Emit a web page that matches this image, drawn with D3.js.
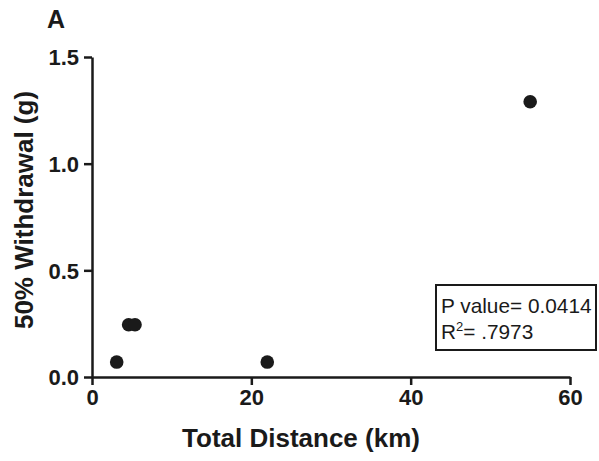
<!DOCTYPE html>
<html><head><meta charset="utf-8">
<script src="https://cdn.jsdelivr.net/npm/d3@7"></script>
<style>body{margin:0;background:#fff}text{font-family:Arial,"Liberation Sans",sans-serif;fill:#1a1a1a}</style>
</head><body>
<script>
const distanceKm = [3.1, 4.6, 5.4, 22.0, 55.0];
const withdrawalG = [0.07, 0.245, 0.245, 0.07, 1.29];
const xTicks = [0, 20, 40, 60];
const yTicks = [0.0, 0.5, 1.0, 1.5];
const panelLabel = "A";
const xTitle = "Total Distance (km)";
const yTitle = "50% Withdrawal (g)";
const statLines = ["P value= 0.0414", "R2= .7973"];

const W = 599, H = 461;
const svg = d3.select("body").append("svg").attr("width", W).attr("height", H);
const x = d3.scaleLinear().domain([0, 60]).range([92, 570]);
const y = d3.scaleLinear().domain([0, 1.5]).range([377, 57]);
const col = "#1a1a1a";

const xa = svg.append("g").attr("transform", `translate(0,${y(0)})`)
  .call(d3.axisBottom(x).tickValues(xTicks).tickFormat(d3.format("d")).tickSize(8).tickSizeOuter(0).tickPadding(4));
const ya = svg.append("g").attr("transform", `translate(${x(0)},0)`)
  .call(d3.axisLeft(y).tickValues(yTicks).tickFormat(d3.format(".1f")).tickSize(8).tickSizeOuter(0).tickPadding(5));
[xa, ya].forEach(a => {
  a.select(".domain").attr("stroke", col).attr("stroke-width", 2.5);
  a.selectAll(".tick line").attr("stroke", col).attr("stroke-width", 2.5);
  a.selectAll(".tick text").attr("font-size", 22).attr("font-weight", "bold").attr("fill", col)
    .style("font-family", "Arial, 'Liberation Sans', sans-serif");
});
ya.selectAll(".tick text").attr("dy", "0.36em");

svg.selectAll("circle.pt").data(distanceKm).enter().append("circle")
  .attr("class", "pt").attr("cx", d => x(d)).attr("cy", (d, i) => y(withdrawalG[i]))
  .attr("r", 6.8).attr("fill", col);

svg.append("text").attr("x", 47).attr("y", 28).attr("font-size", 25).attr("font-weight", "bold").text(panelLabel);
svg.append("text").attr("x", 301).attr("y", 447).attr("text-anchor", "middle")
  .attr("font-size", 26).attr("font-weight", "bold").text(xTitle);
svg.append("text").attr("transform", "translate(33,210) rotate(-90)").attr("text-anchor", "middle")
  .attr("font-size", 26).attr("font-weight", "bold").text(yTitle);

svg.append("rect").attr("x", 436).attr("y", 285).attr("width", 160).attr("height", 65)
  .attr("fill", "#fff").attr("stroke", col).attr("stroke-width", 2);
svg.append("text").attr("x", 441).attr("y", 313).attr("font-size", 20.8).text(statLines[0]);
const t2 = svg.append("text").attr("x", 441).attr("y", 339).attr("font-size", 20.8);
t2.append("tspan").text(statLines[1].slice(0, 1));
t2.append("tspan").attr("font-size", 13).attr("dy", -8).text(statLines[1].slice(1, 2));
t2.append("tspan").attr("dy", 8).text(statLines[1].slice(2));
</script>
</body></html>
